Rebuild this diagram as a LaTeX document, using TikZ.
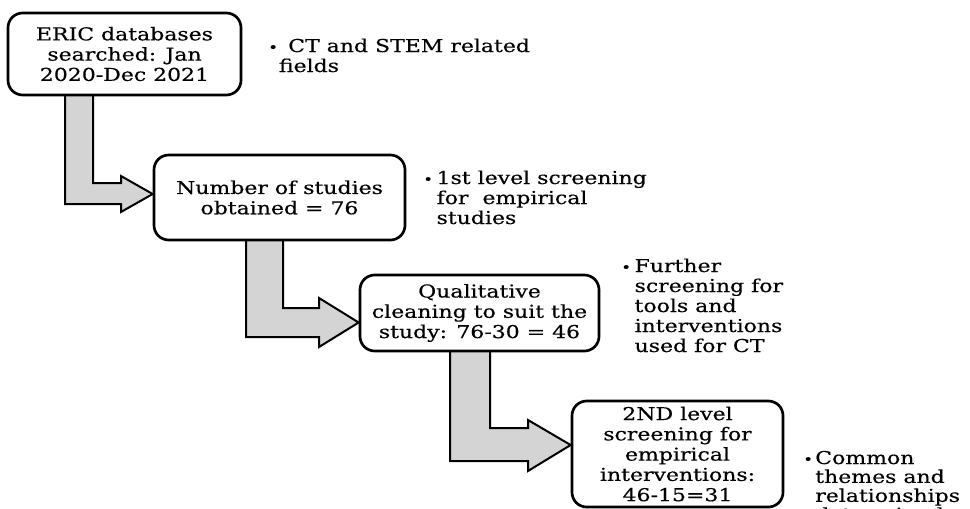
\documentclass[tikz,border=0pt]{standalone}
\usepackage{fontspec}
\setmainfont{DejaVu Serif}[FakeStretch=1.24,FakeBold=0.35]
\usetikzlibrary{calc,backgrounds}
\definecolor{arrowgray}{HTML}{D4D4D4}
\tikzset{
  box/.style={draw=black, line width=2pt, rounded corners=11pt, fill=white,
    inner sep=0pt, align=center, font=\fontsize{13.3}{15.2}\selectfont},
  blockarrow/.style={draw=black, line width=1.5pt, fill=arrowgray, line join=miter},
  note/.style={inner sep=0pt, anchor=base west, font=\fontsize{13.3}{15}\selectfont},
}
\newcommand{\bul}{{\fontsize{10}{10}\selectfont •}}
\begin{document}
\begin{tikzpicture}[x=0.75pt,y=-0.75pt]
\useasboundingbox (0,0) rectangle (970,508);
\clip (0,0) rectangle (970,508);
% boxes
\node[box, minimum width={233*0.75pt}, minimum height={82*0.75pt}] (b1) at (124.5,54)
  {ERIC databases\\searched: Jan\\2020-Dec 2021};
\node[box, minimum width={251*0.75pt}, minimum height={85*0.75pt}] (b2) at (279.5,197.5)
  {Number of studies\\obtained = 76};
\node[box, minimum width={239*0.75pt}, minimum height={76*0.75pt}] (b3) at (479.5,313)
  {Qualitative\\cleaning to suit the\\study: 76-30 = 46};
\node[box, minimum width={211*0.75pt}, minimum height={106*0.75pt}] (b4) at (677.5,454)
  {2ND level\\screening for\\empirical\\interventions:\\46-15=31};
% block arrows
\begin{scope}[on background layer]
\draw[blockarrow] (65,90) -- (93,90) -- (93,183) -- (121,183) -- (121,176)
  -- ($(b2.west)+(0,-3.5)$) -- (121,212) -- (121,204) -- (65,204) -- cycle;
\draw[blockarrow] (246,235) -- (283,235) -- (283,308) -- (319,308) -- (319,298)
  -- ($(b3.west)+(0,9.5)$) -- (319,347) -- (319,337) -- (246,337) -- cycle;
\draw[blockarrow] (450,346) -- (490,346) -- (490,428) -- (528,428) -- (528,420)
  -- ($(b4.west)+(0,-9)$) -- (528,471) -- (528,461) -- (450,461) -- cycle;
\end{scope}
% notes
\node[note] (n1) at (268,52) {\begin{tabular}[t]{@{}p{15pt}@{}l@{}}
  \bul & CT and STEM related\\
  \multicolumn{2}{@{\hspace{8pt}}l@{}}{fields}
  \end{tabular}};
\node[note] (n2) at (423,184) {\begin{tabular}[t]{@{}p{10pt}@{}l@{}}
  \bul & 1st level screening\\
  & for\ \ empirical\\
  & studies
  \end{tabular}};
\node[note] (n3) at (621,272) {\begin{tabular}[t]{@{}p{10pt}@{}l@{}}
  \bul & Further\\
  & screening for\\
  & tools and\\
  & interventions\\
  & used for CT
  \end{tabular}};
\node[note, font=\fontsize{13.3}{13.6}\selectfont] (n4) at (803,464) {\begin{tabular}[t]{@{}p{9pt}@{}l@{}}
  \bul & Common\\
  & themes and\\
  & relationships\\
  & determined
  \end{tabular}};
\end{tikzpicture}
\end{document}
